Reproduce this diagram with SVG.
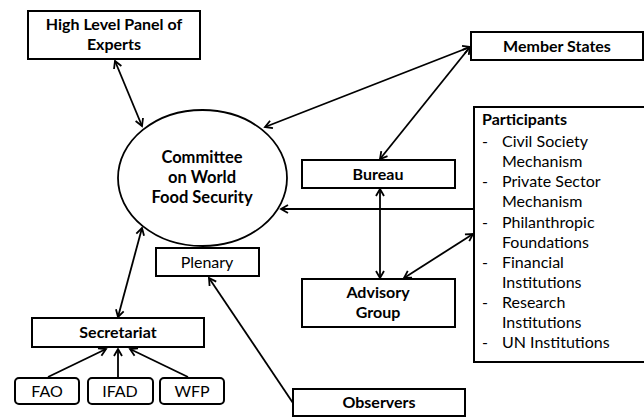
<svg xmlns="http://www.w3.org/2000/svg" width="644" height="417" viewBox="0 0 644 417">
<style>
.box{fill:#fff;stroke:#000;stroke-width:2}
.t{font-family:Lato,"Liberation Sans",sans-serif;font-size:16px;fill:#000;text-anchor:middle}
.b{font-weight:700}
.big{font-size:16.5px}
.l{text-anchor:start}
.c{fill:none;stroke:#000;stroke-width:1.8}
</style>
<defs>
<marker id="ah" viewBox="-10 -6 12 12" markerWidth="12" markerHeight="12" refX="0" refY="0" orient="auto-start-reverse" markerUnits="userSpaceOnUse">
<path d="M-7,-4 L0,0 L-7,4" fill="none" stroke="#000" stroke-width="1.8"/>
</marker>
</defs>
<rect width="644" height="417" fill="#fff"/>
<g id="connectors">
<line class="c" x1="115" y1="61" x2="142" y2="126" marker-start="url(#ah)" marker-end="url(#ah)"/>
<line class="c" x1="470" y1="47" x2="265" y2="127" marker-start="url(#ah)" marker-end="url(#ah)"/>
<line class="c" x1="470" y1="47" x2="380" y2="159" marker-start="url(#ah)" marker-end="url(#ah)"/>
<line class="c" x1="380" y1="189" x2="380" y2="278" marker-start="url(#ah)" marker-end="url(#ah)"/>
<line class="c" x1="404" y1="278" x2="473" y2="234" marker-start="url(#ah)" marker-end="url(#ah)"/>
<line class="c" x1="473" y1="209" x2="281" y2="209" marker-end="url(#ah)"/>
<line class="c" x1="118" y1="317" x2="142" y2="228" marker-start="url(#ah)" marker-end="url(#ah)"/>
<line class="c" x1="48" y1="377" x2="106" y2="349" marker-end="url(#ah)"/>
<line class="c" x1="118" y1="377" x2="118" y2="349" marker-end="url(#ah)"/>
<line class="c" x1="188" y1="377" x2="130" y2="349" marker-end="url(#ah)"/>
<line class="c" x1="293" y1="403" x2="209" y2="278" marker-end="url(#ah)"/>
</g>
<g id="hlpe">
<rect class="box" x="28" y="11" width="172" height="48"/>
<text class="t b" x="114" y="30">High Level Panel of</text>
<text class="t b" x="114" y="50">Experts</text>
</g>
<g id="cfs">
<ellipse cx="202.5" cy="178" rx="84.5" ry="68" fill="#fff" stroke="#000" stroke-width="1.8"/>
<text class="t b big" x="202" y="163">Committee</text>
<text class="t b big" x="202" y="183">on World</text>
<text class="t b big" x="202" y="203">Food Security</text>
</g>
<g id="plenary">
<rect class="box" x="156" y="248" width="103" height="28"/>
<text class="t" x="207" y="268">Plenary</text>
</g>
<g id="member-states">
<rect class="box" x="471" y="32" width="172" height="28"/>
<text class="t b" x="557" y="52">Member States</text>
</g>
<g id="bureau">
<rect class="box" x="302" y="160" width="153" height="28"/>
<text class="t b" x="378" y="180">Bureau</text>
</g>
<g id="advisory-group">
<rect class="box" x="302" y="279" width="153" height="48"/>
<text class="t b" x="378" y="298">Advisory</text>
<text class="t b" x="378" y="318">Group</text>
</g>
<g id="participants">
<rect class="box" x="474" y="107" width="175" height="255"/>
<text class="t b l" x="482" y="125">Participants</text>
<text class="t l" x="482" y="147">-</text><text class="t l" x="502" y="147">Civil Society</text>
<text class="t l" x="502" y="167">Mechanism</text>
<text class="t l" x="482" y="187">-</text><text class="t l" x="502" y="187">Private Sector</text>
<text class="t l" x="502" y="207">Mechanism</text>
<text class="t l" x="482" y="228">-</text><text class="t l" x="502" y="228">Philanthropic</text>
<text class="t l" x="502" y="248">Foundations</text>
<text class="t l" x="482" y="268">-</text><text class="t l" x="502" y="268">Financial</text>
<text class="t l" x="502" y="288">Institutions</text>
<text class="t l" x="482" y="308">-</text><text class="t l" x="502" y="308">Research</text>
<text class="t l" x="502" y="328">Institutions</text>
<text class="t l" x="482" y="348">-</text><text class="t l" x="502" y="348">UN Institutions</text>
</g>
<g id="secretariat">
<rect class="box" x="32" y="318" width="172" height="29"/>
<text class="t b" x="118" y="338">Secretariat</text>
</g>
<g id="fao">
<rect class="box" x="15" y="378" width="64" height="26" rx="4"/>
<text class="t" x="47" y="397">FAO</text>
</g>
<g id="ifad">
<rect class="box" x="88" y="378" width="65" height="26" rx="4"/>
<text class="t" x="120" y="397">IFAD</text>
</g>
<g id="wfp">
<rect class="box" x="160" y="378" width="64" height="26" rx="4"/>
<text class="t" x="192" y="397">WFP</text>
</g>
<g id="observers">
<rect class="box" x="293" y="389" width="172" height="27"/>
<text class="t b" x="379" y="408">Observers</text>
</g>
</svg>
